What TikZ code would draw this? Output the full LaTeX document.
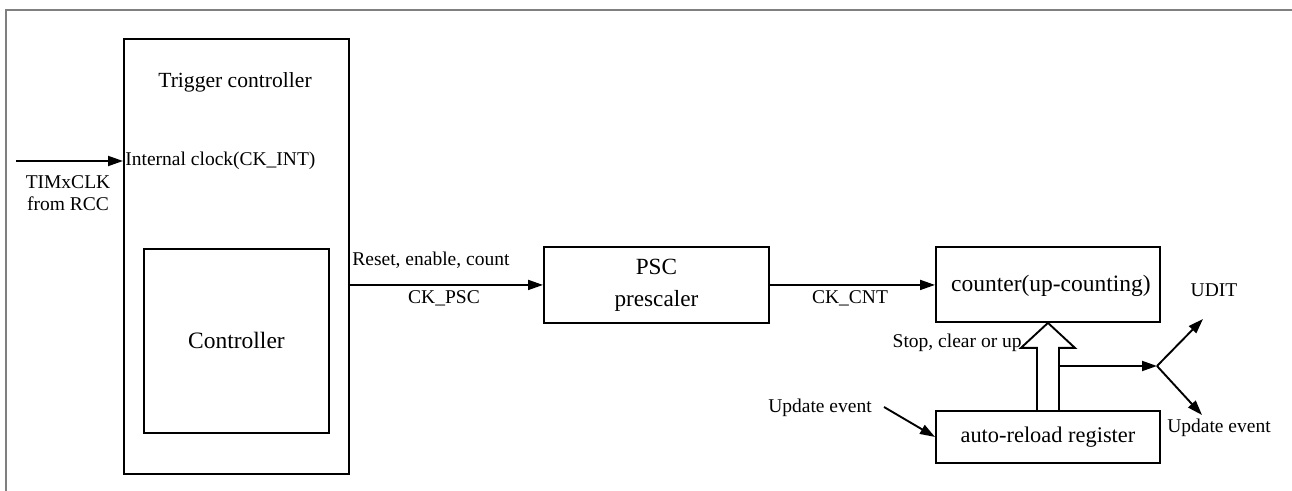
\documentclass[tikz,border=0pt]{standalone}
\usepackage{fontspec}
\setmainfont{Liberation Serif}
\usetikzlibrary{arrows.meta,calc}
\definecolor{framecol}{HTML}{7F7F7F}
\begin{document}
\begin{tikzpicture}[x=0.5pt,y=-0.5pt,
  box/.style={draw, line width=0.95pt, rectangle, inner sep=0pt, anchor=north west},
  conn/.style={line width=0.95pt, -{Triangle[length=7.5pt,width=5pt]}},
  lbl/.style={inner sep=0pt, font=\fontsize{9.75}{11}\selectfont},
  big/.style={font=\fontsize{11.75}{14}\selectfont}
  ]
\useasboundingbox (0,0) rectangle (1292,491);
% outer frame (cropped)
\draw[framecol, line width=0.7pt] (6,491) -- (6,10) -- (1292,10);

% blocks
\node[box, minimum width=112.5pt, minimum height=217.5pt] (trig) at (123,38) {};
\node[box, big, minimum width=92.5pt, minimum height=92pt] (ctrl) at (143,248) {Controller};
\node[box, minimum width=112.5pt, minimum height=38pt, align=center, font=\fontsize{11.6}{16}\selectfont] (psc) at (543,246) {PSC\\prescaler};
\node[box, big, minimum width=112pt, minimum height=37.5pt, text depth=1pt] (cnt) at (935,246) {\hspace*{3pt}counter(up-counting)};
\node[box, minimum width=112pt, minimum height=26pt, font=\fontsize{11.2}{14}\selectfont] (arr) at (935,410) {auto-reload register};

% labels
\node[lbl, font=\fontsize{10.8}{13}\selectfont] (tt) at (235,82) {Trigger controller};
\node[lbl, anchor=west] (ick) at (125,161) {Internal clock(CK\_INT)};
\node[lbl, align=center] (tim) at (68,193) {TIMxCLK\\from RCC};
\node[lbl, anchor=west] (rec) at (352,260) {Reset, enable, count};
\node[lbl] (ckpsc) at (444,298) {CK\_PSC};
\node[lbl] (ckcnt) at (850,298) {CK\_CNT};
\node[lbl, anchor=east] (scu) at (1022,343) {Stop, clear or up};
\node[lbl] (udit) at (1214,290) {UDIT};
\node[lbl] (uer) at (1219,428) {Update event};
\node[lbl] (uel) at (820,408) {Update event};

% connectors
\coordinate (src) at (16,161);
\draw[conn] (src) -- (src -| trig.west);
\draw[conn] (trig.east |- psc.west) -- (psc.west);
\draw[conn] (psc.east) -- (psc.east -| cnt.west);

% hollow arrow
\draw[line width=0.95pt, fill=white]
  ($(arr.north)+(-11,0)$) -- ($(cnt.south)+(-11,25)$) -- ($(cnt.south)+(-27,25)$)
  -- (cnt.south) -- ($(cnt.south)+(27,25)$) -- ($(cnt.south)+(11,25)$) -- ($(arr.north)+(11,0)$);

\coordinate (br) at (1157,366);
\coordinate (ud) at (1203,319);
\coordinate (ue) at (1202,415);
\draw[conn] ($(arr.north)+(11,-44)$) -- (br);
\draw[conn] (br) -- (ud);
\draw[conn] (br) -- (ue);

\coordinate (ues) at (884,407);
\draw[conn] (ues) -- (arr.west);
\end{tikzpicture}
\end{document}
